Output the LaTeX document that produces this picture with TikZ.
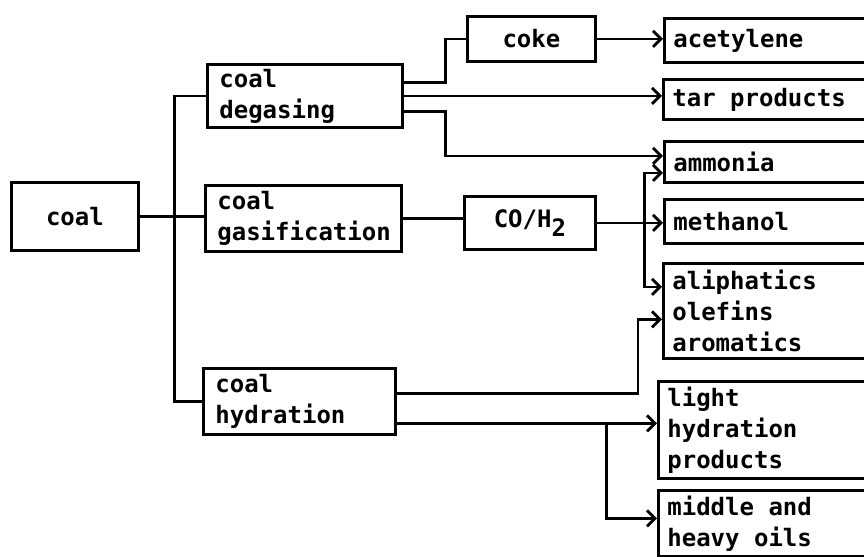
\documentclass[tikz,border=0pt]{standalone}
\usepackage{fontspec}
\setmonofont{DejaVu Sans Mono}
\usetikzlibrary{arrows.meta,calc}
\newcommand{\flowfont}{\ttfamily\bfseries\fontsize{12}{15.5}\selectfont}
\newcommand{\gap}{\hspace*{0.602em}}

\begin{document}
\begin{tikzpicture}[x=0.5pt,y=-0.5pt,
  font=\flowfont,
  >={Straight Barb[length=4pt,width=8pt]},line width=1.4pt,
  box/.style={draw,line width=1.4pt,anchor=north west,inner ysep=2pt},
  lbox/.style={box,inner xsep=6pt,align=left},
  rbox/.style={box,inner xsep=4.5pt,align=left,text width=120pt},
  cbox/.style={box,align=center}]
\useasboundingbox (0,0) rectangle (864,557);
\clip (0,0) rectangle (864,557);
% coal and the three routes
\node[cbox,minimum width=63.5pt,minimum height=34pt] (coal) at (10,181) {coal};
\node[lbox,text width=85.5pt,minimum height=31.5pt] (deg) at (206,63) {coal\\degasing};
\node[lbox,text width=86pt,minimum height=33pt] (gas) at (204,184) {coal\\gasification};
\node[lbox,text width=84pt,minimum height=33pt] (hyd) at (202,367) {coal\\hydration};
% intermediates
\node[cbox,minimum width=64pt,minimum height=22.5pt] (coke) at (466,15) {coke};
\node[cbox,minimum width=65.5pt,minimum height=26.5pt] (co) at (463,195) {CO/H\raisebox{-0.7ex}{2}};
% products
\node[rbox,minimum height=22pt] (acet) at (663,17) {acetylene};
\node[rbox,minimum height=20pt] (tar) at (662,78) {tar\gap products};
\node[rbox,minimum height=20.5pt] (amm) at (663,140) {ammonia};
\node[rbox,minimum height=22pt] (meth) at (663,198) {methanol};
\node[rbox,minimum height=47.5pt] (ali) at (662,262) {aliphatics\\olefins\\aromatics};
\node[rbox,minimum height=48.5pt] (light) at (657,380) {light\\hydration\\products};
\node[rbox,minimum height=33pt] (oil) at (657,489) {middle\gap and\\heavy\gap oils};
% trunk from coal
\coordinate (trunk) at ($(coal.east)+(35,0)$);
\draw (coal.east) -- (coal.east -| gas.west);
\draw (deg.west) -| (trunk) |- (hyd.west);
% degasing
\coordinate (degup) at ([yshift=6.75pt]deg.east);
\coordinate (deglo) at ([yshift=-7.75pt]deg.east);
\draw (degup) -- ++(42,0) |- (coke.west);
\draw[->] (coke.east) -- (coke.east -| acet.west);
\draw[->] (deg.east) -- (deg.east -| tar.west);
\draw[->] (deglo) -- ++(42,0) |- ([yshift=3pt]amm.west);
% gasification
\draw (gas.east) -- (gas.east -| co.west);
\draw[->] (co.east) -- (co.east -| meth.west);
\coordinate (cojoin) at ($(co.east)+(48,0)$);
\draw[->] (cojoin) |- ([yshift=-5.5pt]amm.west);
\draw[->] (cojoin) |- ([yshift=12pt]ali.west);
% hydration
\coordinate (hydup) at ([yshift=4pt]hyd.east);
\coordinate (hydlo) at ([yshift=-11pt]hyd.east);
\coordinate (hydjoin) at ($(hydlo)+(210,0)$);
\draw[->] (hydup) -| ([xshift=-12pt,yshift=-4.25pt]ali.west) -- ([yshift=-4.25pt]ali.west);
\draw[->] (hydlo) -- (hydlo -| light.west);
\draw[->] (hydjoin) |- ([yshift=2.5pt]oil.west);
\end{tikzpicture}
\end{document}
